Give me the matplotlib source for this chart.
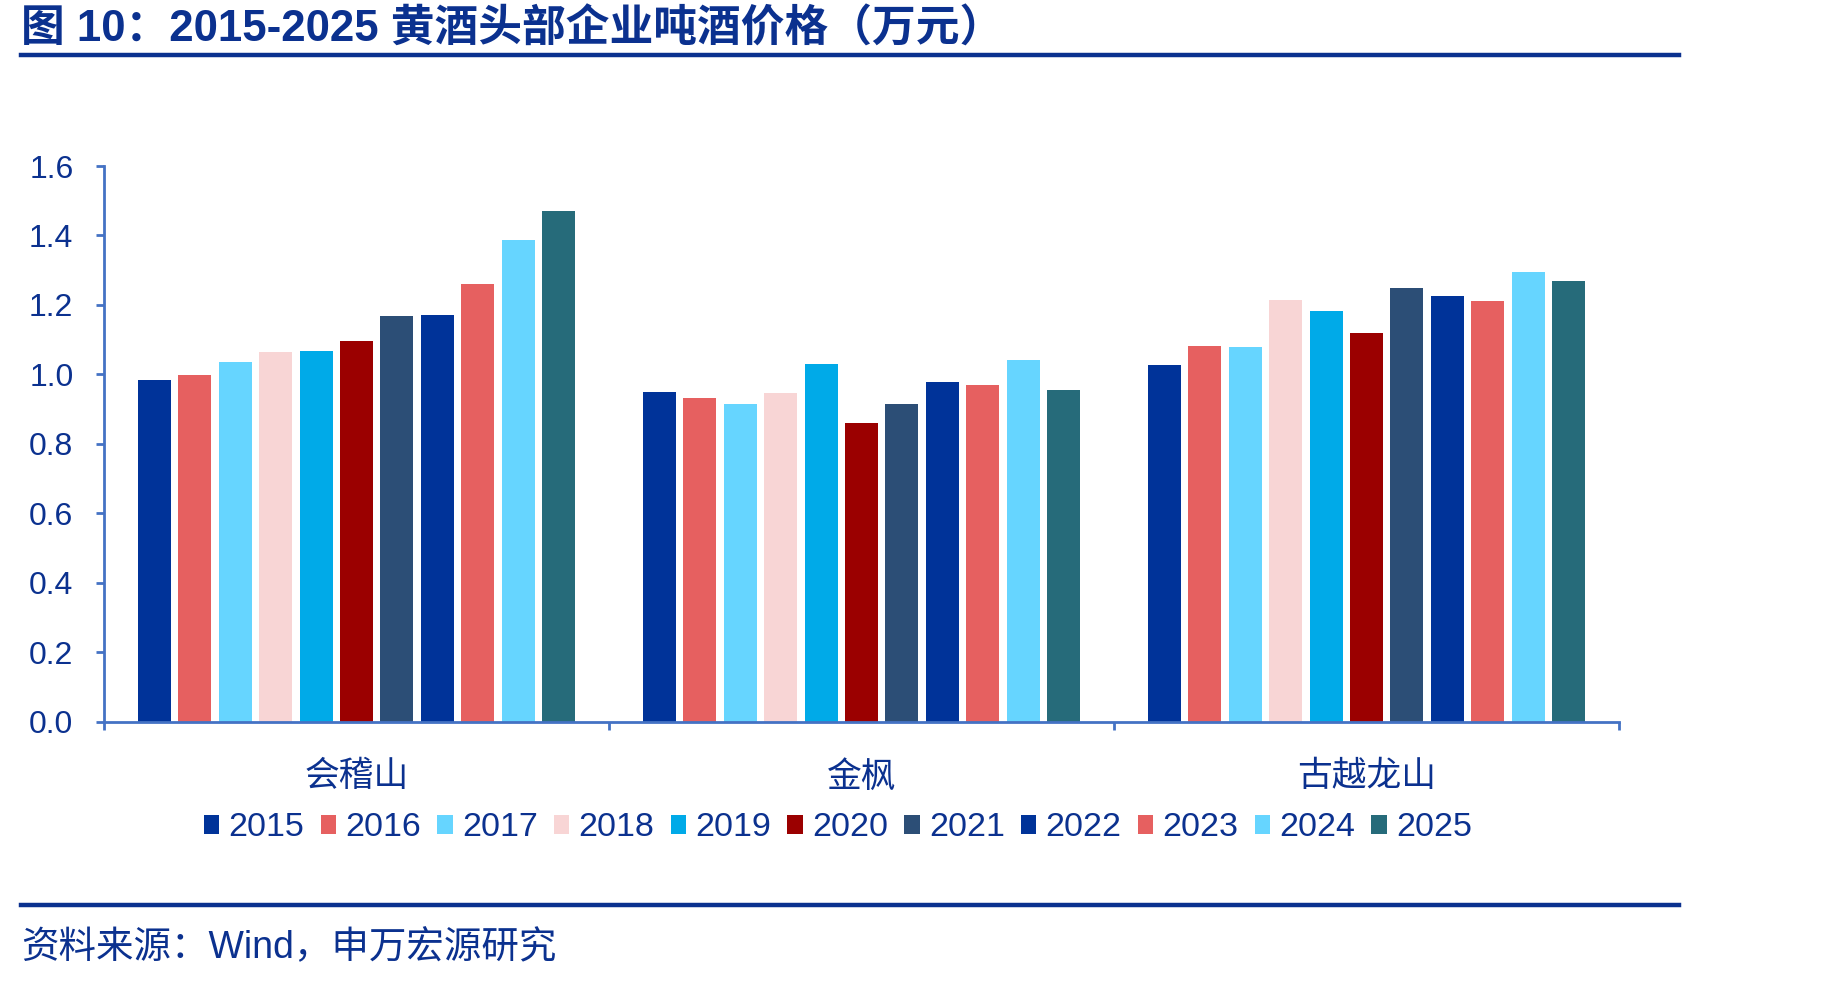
import matplotlib
matplotlib.use("Agg")
import matplotlib.pyplot as plt
import numpy as np
from matplotlib.patches import Patch
from matplotlib.lines import Line2D

plt.rcParams['font.family'] = ['Liberation Sans', 'Noto Sans CJK SC', 'DejaVu Sans']

# ---- data ----
companies = ['会稽山', '金枫', '古越龙山']
years = ['2015', '2016', '2017', '2018', '2019', '2020', '2021', '2022', '2023', '2024', '2025']
price_kuaijishan = [0.985, 0.998, 1.037, 1.063, 1.066, 1.096, 1.167, 1.170, 1.260, 1.387, 1.469]
price_jinfeng = [0.950, 0.931, 0.916, 0.946, 1.031, 0.859, 0.914, 0.979, 0.969, 1.040, 0.955]
price_guyue = [1.028, 1.083, 1.079, 1.214, 1.182, 1.118, 1.248, 1.225, 1.211, 1.294, 1.269]
yticks = [0.0, 0.2, 0.4, 0.6, 0.8, 1.0, 1.2, 1.4, 1.6]

colors = ['#003399', '#E66060', '#66D5FF', '#F8D5D5', '#00AAE8', '#9B0000',
          '#2C4E76', '#003399', '#E66060', '#66D5FF', '#266B7A']
text_color = '#0B318F'
axis_color = '#4472C4'

W, H = 1849, 982
fig = plt.figure(figsize=(W / 100, H / 100), dpi=100)
ax = fig.add_axes([104 / W, 1 - 721.6 / H, (1619 - 104) / W, (721.6 - 166) / H])

data = np.array([price_kuaijishan, price_jinfeng, price_guyue])  # shape (3, 11)
n = len(years)
pitch = 0.0800
width = 0.0655
x = np.arange(len(companies))
for i, yr in enumerate(years):
    offs = (i - (n - 1) / 2) * pitch
    ax.bar(x + offs, data[:, i], width=width, color=colors[i], label=yr, zorder=2)

ax.set_xlim(-0.5, 2.5)
ax.set_ylim(0, 1.6)
ax.set_yticks(yticks)
ax.set_yticklabels([f'{v:.1f}' for v in yticks])

for s in ['top', 'right']:
    ax.spines[s].set_visible(False)
for s in ['left', 'bottom']:
    ax.spines[s].set_color(axis_color)
    ax.spines[s].set_linewidth(2)

ax.set_xticks([-0.5, 0.5, 1.5, 2.5])
ax.set_xticklabels(['', '', '', ''])
ax.set_xticks(x, minor=True)
ax.set_xticklabels(companies, minor=True)
ax.tick_params(axis='x', which='major', direction='out', length=6, width=2, color=axis_color)
ax.tick_params(axis='x', which='minor', length=0, pad=28, labelsize=25, labelcolor=text_color)
ax.tick_params(axis='y', direction='out', length=6, width=2, color=axis_color,
               labelsize=23, labelcolor=text_color, pad=16)

# legend
handles = [Patch(facecolor=c, edgecolor='none') for c in colors]
leg = fig.legend(handles, years, loc='center', bbox_to_anchor=(838 / W, 1 - 828 / H),
                 ncol=11, frameon=False, fontsize=24.5, handlelength=0.45, handleheight=0.45,
                 handletextpad=0.27, columnspacing=0.48, borderaxespad=0, borderpad=0)
for t in leg.get_texts():
    t.set_color(text_color)

# title
fig.text(21 / W, 1 - 29 / H, '图 10：2015-2025 黄酒头部企业吨酒价格（万元）', fontsize=31.5,
         fontweight='bold', color=text_color, ha='left', va='center')
fig.add_artist(Line2D([21 / W, 1679 / W], [1 - 55 / H, 1 - 55 / H], color='#0B318F', lw=3.2))
fig.add_artist(Line2D([21 / W, 1679 / W], [1 - 905 / H, 1 - 905 / H], color='#0B318F', lw=3.2))
fig.text(21 / W, 1 - 948 / H, '资料来源：Wind，申万宏源研究', fontsize=27,
         color=text_color, ha='left', va='center')

fig.savefig('out.png', dpi=100)
